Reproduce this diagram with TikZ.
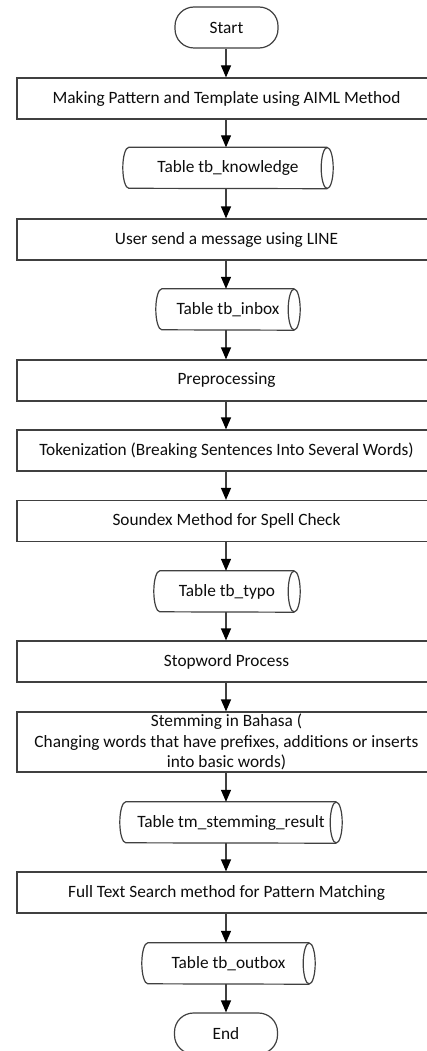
\documentclass[tikz,border=0pt]{standalone}
\usepackage{fontspec}
\setmainfont{Carlito}
\usetikzlibrary{arrows.meta}
\newcommand\cylout[1]{%
  \draw[cylline] ([xshift=-6pt]#1.north east) -- ([xshift=6pt]#1.north west)
    arc[start angle=90,end angle=270,x radius=6pt,y radius=20.5pt]
    -- ([xshift=-6pt]#1.south east);
  \draw[cylline] ([xshift=-6pt]#1.east) ellipse[x radius=6pt,y radius=20.5pt];}
\begin{document}
\begin{tikzpicture}[x=1pt,y=-1pt,
  every node/.style={font=\fontsize{17.3}{20.5}\selectfont, text=black!95, inner sep=0pt, align=center},
  proc/.style={draw=black!75, line width=1.2pt, minimum width=419pt, minimum height=41pt},
  term/.style={draw=black!75, line width=1.2pt, rounded corners=19pt, minimum width=103pt, minimum height=41pt},
  store/.style={minimum height=41pt},
  arr/.style={draw=black!75, line width=1.2pt, -{Triangle[width=10pt,length=12pt,fill=black,color=black]}},
  cylline/.style={draw=black!75, line width=1.2pt}
]
\useasboundingbox (0,0) rectangle (427,1051);
\fill[white] (0,0) rectangle (427,1051);
\coordinate (ax) at (226,0);
\node[term] (start) at (226.5,27.5) {Start};
\node[proc] (b1) at (226.5,98.5) {Making Pattern and Template using AIML Method};
\node[store, minimum width=210pt] (c1) at (228,168) {Table tb\_knowledge};
\node[proc] (b2) at (226.5,239.5) {User send a message using LINE};
\node[store, minimum width=144pt] (c2) at (228,309.5) {Table tb\_inbox};
\node[proc] (b3) at (226.5,380.5) {Preprocessing};
\node[proc] (b4) at (226.5,450.5) {Tokenization (Breaking Sentences Into Several Words)};
\node[proc] (b5) at (226.5,521) {Soundex Method for Spell Check};
\node[store, minimum width=146pt] (c3) at (227,591.5) {Table tb\_typo};
\node[proc] (b6) at (226.5,661.5) {Stopword Process};
\node[proc, minimum height=60pt] (b7) at (226.5,742) {Stemming in Bahasa (\\Changing words that have prefixes, additions or inserts\\into basic words)};
\node[store, minimum width=222pt] (c4) at (231,822.5) {Table tm\_stemming\_result};
\node[proc] (b8) at (226.5,892.5) {Full Text Search method for Pattern Matching};
\node[store, minimum width=173pt] (c5) at (228.5,963.5) {Table tb\_outbox};
\node[term] (end) at (226,1033.5) {End};
\cylout{c1}\cylout{c2}\cylout{c3}\cylout{c4}\cylout{c5}
\draw[arr] (start.south -| ax) -- (b1.north -| ax);
\draw[arr] (b1.south -| ax) -- (c1.north -| ax);
\draw[arr] (c1.south -| ax) -- (b2.north -| ax);
\draw[arr] (b2.south -| ax) -- (c2.north -| ax);
\draw[arr] (c2.south -| ax) -- (b3.north -| ax);
\draw[arr] (b3.south -| ax) -- (b4.north -| ax);
\draw[arr] (b4.south -| ax) -- (b5.north -| ax);
\draw[arr] (b5.south -| ax) -- (c3.north -| ax);
\draw[arr] (c3.south -| ax) -- (b6.north -| ax);
\draw[arr] (b6.south -| ax) -- (b7.north -| ax);
\draw[arr] (b7.south -| ax) -- (c4.north -| ax);
\draw[arr] (c4.south -| ax) -- (b8.north -| ax);
\draw[arr] (b8.south -| ax) -- (c5.north -| ax);
\draw[arr] (c5.south -| ax) -- (end.north -| ax);
\end{tikzpicture}
\end{document}
